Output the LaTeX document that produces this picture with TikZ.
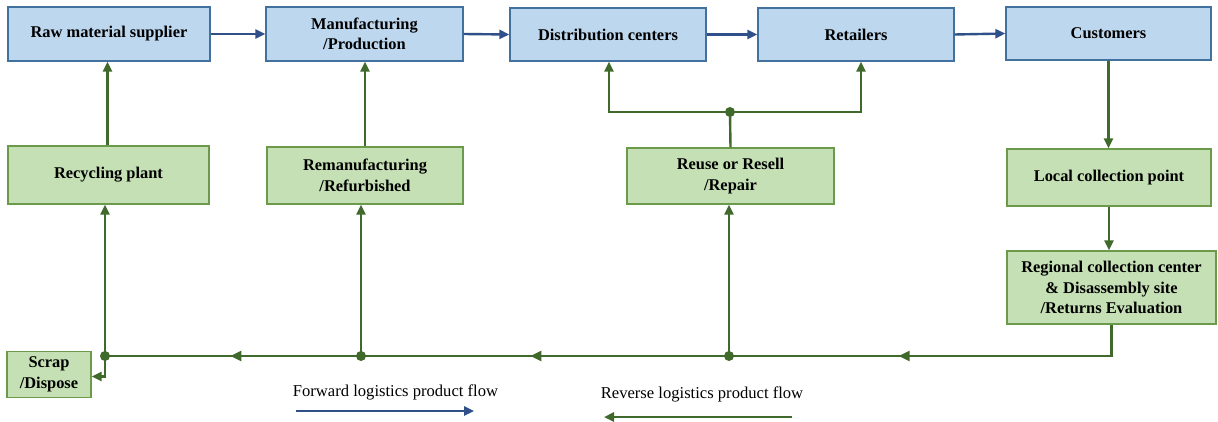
\documentclass[tikz,border=0pt]{standalone}
\usepackage{fontspec}
\setmainfont{Liberation Serif}
\usetikzlibrary{arrows.meta,decorations.markings}
\definecolor{bfill}{HTML}{BDD7EE}
\definecolor{bdraw}{HTML}{41719C}
\definecolor{barr}{HTML}{2F5089}
\definecolor{gfill}{HTML}{C5E0B4}
\definecolor{gdraw}{HTML}{6A9A4A}
\definecolor{gline}{HTML}{3F6A2B}
\tikzset{
  bluebox/.style={draw=bdraw, fill=bfill, line width=1.3pt, inner sep=0pt, align=center,
    font=\fontsize{16.4}{20.5}\selectfont\bfseries},
  greenbox/.style={draw=gdraw, fill=gfill, line width=1.3pt, inner sep=0pt, align=center,
    font=\fontsize{16.4}{20.5}\selectfont\bfseries},
  barrow/.style={draw=barr, line width=2.4pt, -{Triangle[length=10pt,width=9pt]}},
  garrow/.style={draw=gline, line width=2.4pt, -{Triangle[length=10pt,width=9pt]}},
  gline/.style={draw=gline, line width=2.4pt},
  midarrow/.style={postaction={decorate}, decoration={markings,
    mark=at position #1 with {\arrow{Triangle[length=11pt,width=10pt]}}}},
  gdot/.style={circle, fill=gline, inner sep=0pt, minimum size=10pt},
  legend/.style={font=\fontsize{16.6}{19}\selectfont, inner sep=0pt},
}
\begin{document}
\begin{tikzpicture}[x=1pt,y=-1pt]
\useasboundingbox[fill=white] (0,0) rectangle (1218,422);
% top row
\node[bluebox, minimum width=202pt, minimum height=54pt] (raw) at (109,34) {Raw material supplier};
\node[bluebox, minimum width=197pt, minimum height=54pt] (manu) at (364.5,34) {Manufacturing\\/Production};
\node[bluebox, minimum width=196pt, minimum height=53pt] (dist) at (608,34.5) {Distribution centers};
\node[bluebox, minimum width=196pt, minimum height=53pt] (ret) at (856,34.5) {Retailers};
\node[bluebox, minimum width=205pt, minimum height=53pt] (cust) at (1108.5,33.5) {Customers};
% green boxes
\node[greenbox, minimum width=201pt, minimum height=58pt] (rec) at (108.5,175) {Recycling plant};
\node[greenbox, minimum width=196pt, minimum height=57pt] (reman) at (365,175.5) {Remanufacturing\\/Refurbished};
\node[greenbox, minimum width=207pt, minimum height=56pt] (reuse) at (730.5,176) {Reuse or Resell\\/Repair};
\node[greenbox, minimum width=204pt, minimum height=57pt] (local) at (1109,177.5) {Local collection point};
\node[greenbox, minimum width=209pt, minimum height=73pt] (reg) at (1111.5,287.5) {Regional collection center\\\& Disassembly site\\/Returns Evaluation};
\node[greenbox, minimum width=84pt, minimum height=46pt] (scrap) at (49,374.5) {Scrap\\/Dispose};
% forward flow
\draw[barrow] (raw.east) -- (manu.west);
\draw[barrow] (manu.east) -- (dist.west);
\draw[barrow] (dist.east) -- (ret.west);
\draw[barrow] (ret.east) -- (cust.west);
% reverse flow
\draw[garrow] (cust.south) -- (cust.south |- local.north);
\draw[garrow] (local.south) -- (local.south |- reg.north);
\node[gdot] (d1) at (105,356) {};
\node[gdot] (d2) at (361,356) {};
\node[gdot] (d3) at (729,356) {};
\node[gdot] (j) at (730,112) {};
\draw[gline, midarrow=0.59] (reg.south) |- (d3.center);
\draw[gline, midarrow=0.54] (d3.center) -- (d2.center);
\draw[gline, midarrow=0.51] (d2.center) -- (d1.center);
\draw[garrow] (d1.center) |- ([yshift=-2pt]scrap.east);
\draw[garrow] (d1.center) -- (d1.center |- rec.south);
\draw[garrow] (d2.center) -- (d2.center |- reman.south);
\draw[garrow] (d3.center) -- (d3.center |- reuse.south);
\draw[garrow] ([xshift=-1pt]rec.north) -- ([xshift=-1pt]rec.north |- raw.south);
\draw[garrow] (reman.north) -- (reman.north |- manu.south);
\draw[gline] (reuse.north) -- (j.center);
\draw[garrow] (j.center) -| ([xshift=1pt]dist.south);
\draw[garrow] (j.center) -| ([xshift=5pt]ret.south);
% legend
\node[legend] (fwd) at (395.5,392) {Forward logistics product flow};
\coordinate (fa) at (296,411);
\coordinate (fb) at (474,411);
\draw[barrow] (fa) -- (fb);
\node[legend] (rev) at (702,394.5) {Reverse logistics product flow};
\coordinate (ra) at (792,417);
\coordinate (rb) at (604,417);
\draw[garrow] (ra) -- (rb);
\end{tikzpicture}
\end{document}
